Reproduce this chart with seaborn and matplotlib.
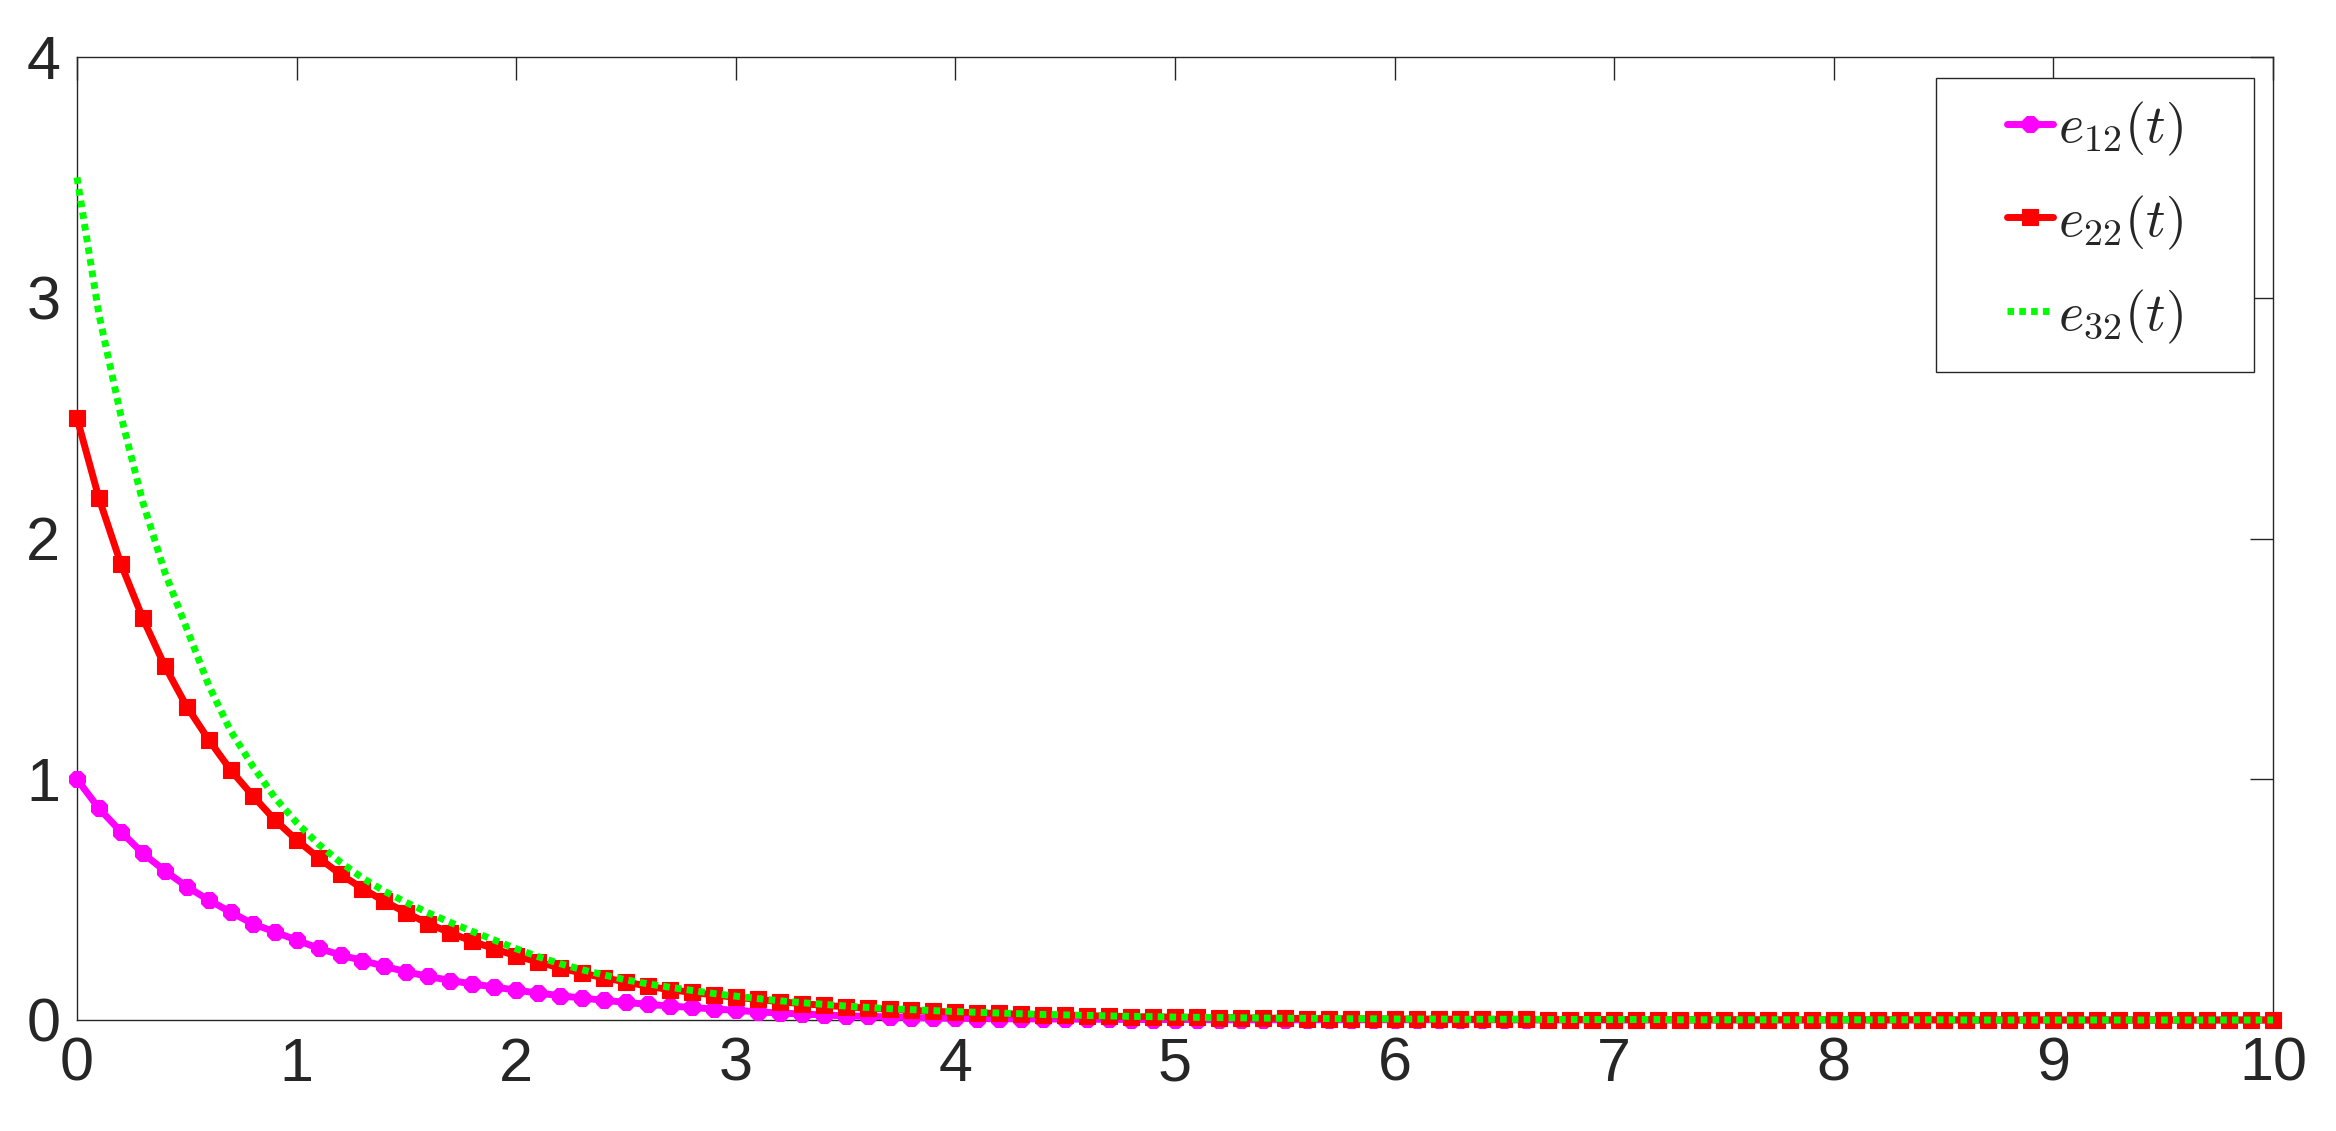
import numpy as np
import pandas as pd
import matplotlib
matplotlib.use("Agg")
import matplotlib.pyplot as plt
from matplotlib.patches import Rectangle
import seaborn as sns

# ---- data ----
t = np.round(np.arange(101) * 0.1, 1)

e12 = [1.000, 0.879, 0.782, 0.692, 0.620, 0.554, 0.498, 0.448, 0.400, 0.366,
       0.332, 0.298, 0.270, 0.247, 0.223, 0.200, 0.181, 0.164, 0.150, 0.137,
       0.124, 0.112, 0.101, 0.091, 0.082, 0.073, 0.065, 0.058, 0.052, 0.046,
       0.040, 0.034, 0.029, 0.025, 0.021, 0.017, 0.015, 0.013, 0.010, 0.008,
       0.007, 0.006, 0.005, 0.005, 0.004, 0.004, 0.003, 0.003, 0.002, 0.002,
       0.002, 0.002, 0.001, 0.001, 0.001, 0.001, 0.001, 0.001, 0.001, 0.001,
       0.001, 0.001, 0.001, 0.001, 0.001, 0.001, 0.000, 0.000, 0.000, 0.000,
       0.000, 0.000, 0.000, 0.000, 0.000, 0.000, 0.000, 0.000, 0.000, 0.000,
       0.000, 0.000, 0.000, 0.000, 0.000, 0.000, 0.000, 0.000, 0.000, 0.000,
       0.000, 0.000, 0.000, 0.000, 0.000, 0.000, 0.000, 0.000, 0.000, 0.000,
       0.000]

e22 = [2.500, 2.167, 1.894, 1.668, 1.470, 1.302, 1.164, 1.038, 0.932, 0.832,
       0.748, 0.674, 0.605, 0.546, 0.493, 0.445, 0.400, 0.362, 0.327, 0.296,
       0.266, 0.241, 0.216, 0.195, 0.175, 0.158, 0.140, 0.126, 0.115, 0.104,
       0.094, 0.086, 0.076, 0.068, 0.061, 0.055, 0.049, 0.045, 0.040, 0.036,
       0.033, 0.030, 0.027, 0.024, 0.022, 0.020, 0.018, 0.016, 0.014, 0.013,
       0.012, 0.011, 0.010, 0.009, 0.008, 0.007, 0.006, 0.006, 0.005, 0.005,
       0.004, 0.004, 0.004, 0.003, 0.003, 0.003, 0.003, 0.002, 0.002, 0.002,
       0.002, 0.002, 0.002, 0.001, 0.001, 0.001, 0.001, 0.001, 0.001, 0.001,
       0.001, 0.001, 0.001, 0.001, 0.001, 0.001, 0.000, 0.000, 0.000, 0.000,
       0.000, 0.000, 0.000, 0.000, 0.000, 0.000, 0.000, 0.000, 0.000, 0.000,
       0.000]

e32 = [3.500, 2.930, 2.510, 2.150, 1.860, 1.625, 1.390, 1.200, 1.055, 0.925,
       0.820, 0.730, 0.655, 0.590, 0.535, 0.488, 0.445, 0.405, 0.368, 0.332,
       0.296, 0.263, 0.234, 0.209, 0.187, 0.167, 0.150, 0.136, 0.123, 0.110,
       0.099, 0.089, 0.080, 0.072, 0.065, 0.058, 0.052, 0.047, 0.043, 0.039,
       0.035, 0.032, 0.029, 0.026, 0.023, 0.021, 0.019, 0.017, 0.015, 0.014,
       0.012, 0.011, 0.010, 0.009, 0.008, 0.007, 0.007, 0.006, 0.005, 0.005,
       0.004, 0.004, 0.004, 0.003, 0.003, 0.003, 0.003, 0.002, 0.002, 0.002,
       0.002, 0.002, 0.002, 0.001, 0.001, 0.001, 0.001, 0.001, 0.001, 0.001,
       0.001, 0.001, 0.001, 0.001, 0.001, 0.001, 0.000, 0.000, 0.000, 0.000,
       0.000, 0.000, 0.000, 0.000, 0.000, 0.000, 0.000, 0.000, 0.000, 0.000,
       0.000]

labels = [r"$e_{12}(t)$", r"$e_{22}(t)$", r"$e_{32}(t)$"]
x_ticks = [0, 1, 2, 3, 4, 5, 6, 7, 8, 9, 10]
y_ticks = [0, 1, 2, 3, 4]

assert len(e12) == len(e22) == len(e32) == len(t) == 101

# ---- style ----
sns.set_theme(style="white")
plt.rcParams["font.family"] = ["Liberation Sans", "DejaVu Sans"]
plt.rcParams["mathtext.fontset"] = "cm"
EDGE = "#262626"
W, H = 2336, 1131
LW = 5.0

fig = plt.figure(figsize=(W / 100, H / 100), dpi=100)
ax = fig.add_axes([77 / W, 1 - 1020 / H, (2273 - 77) / W, (1020 - 57) / H])

df = pd.DataFrame({"t": t, "e12": e12, "e22": e22, "e32": e32})

sns.lineplot(data=df, x="t", y="e12", ax=ax, color="#ff00ff", linewidth=LW,
             marker=(8, 2, 0), markersize=12, markeredgewidth=4.5,
             markeredgecolor="#ff00ff", label=labels[0], zorder=3, clip_on=False)
sns.lineplot(data=df, x="t", y="e22", ax=ax, color="#ff0000", linewidth=LW,
             marker="s", markersize=11.4, markeredgewidth=0.8,
             markeredgecolor="#ff0000", markerfacecolor="#ff0000",
             label=labels[1], zorder=4, clip_on=False)
sns.lineplot(data=df, x="t", y="e32", ax=ax, color="#00ff00", linewidth=LW,
             linestyle=(0, (0.95, 0.75)), label=labels[2], zorder=5, clip_on=False)

ax.set_xlim(0, 10)
ax.set_ylim(0, 4)
ax.set_xticks(x_ticks)
ax.set_yticks(y_ticks)
ax.set_xticklabels([str(v) for v in x_ticks])
ax.set_yticklabels([str(v) for v in y_ticks])
ax.set_xlabel("")
ax.set_ylabel("")

for s in ax.spines.values():
    s.set_visible(True)
    s.set_color(EDGE)
    s.set_linewidth(1.0)
    s.set_zorder(2)

ax.tick_params(axis="both", which="major", direction="in", length=16.5,
               width=1.0, color=EDGE, labelcolor=EDGE, labelsize=44,
               top=True, right=True)
ax.tick_params(axis="x", pad=12)
ax.tick_params(axis="y", pad=12)

# legend: frameless entries + a separately drawn box (MATLAB-like wide padding)
leg = ax.legend(loc="upper left", bbox_to_anchor=(2007 / W, 1 - 100 / H),
                bbox_transform=fig.transFigure, borderaxespad=0,
                fontsize=39, frameon=False, handlelength=0.85,
                handletextpad=0.1, labelspacing=0.66, borderpad=0,
                numpoints=1)
leg.set_zorder(10)
box = Rectangle((1936 / W, 1 - 372 / H), (2254 - 1936) / W, (372 - 78) / H,
                transform=fig.transFigure, facecolor="white", edgecolor=EDGE,
                linewidth=1.0, zorder=9, clip_on=False)
ax.add_artist(box)

fig.savefig("out.png", dpi=100, facecolor="white")
